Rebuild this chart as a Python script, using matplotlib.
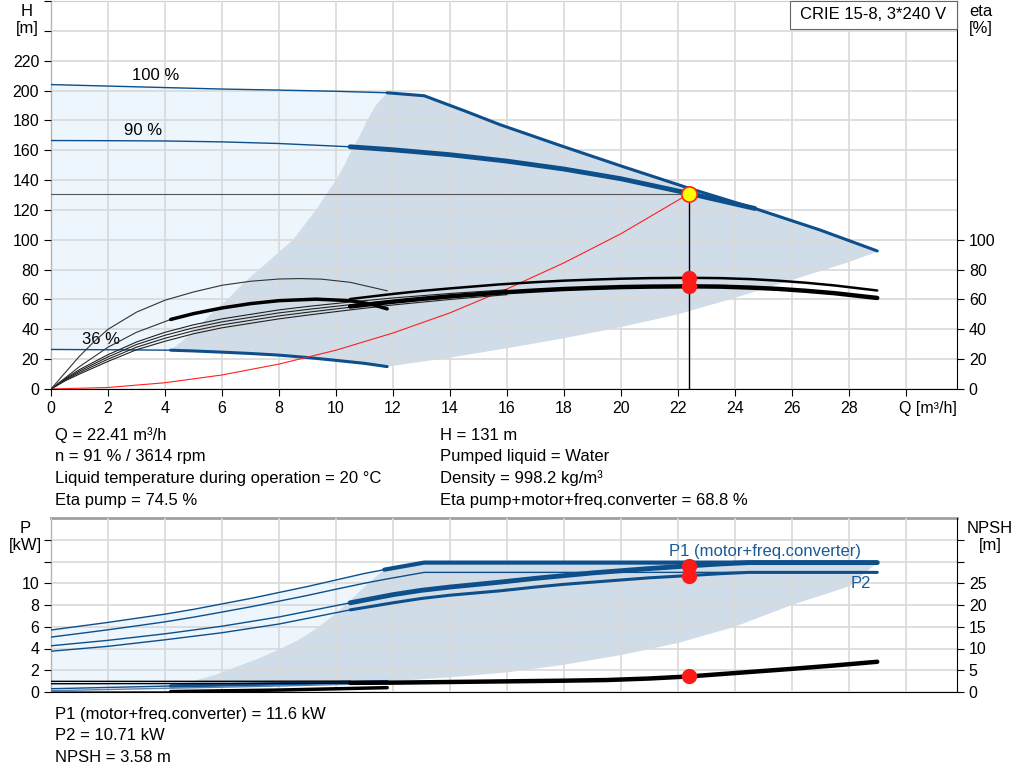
import numpy as np
import matplotlib
matplotlib.use('Agg')
import matplotlib.pyplot as plt

plt.rcParams['font.family'] = ['Liberation Sans', 'DejaVu Sans']
plt.rcParams['font.size'] = 12
plt.rcParams['xtick.labelsize'] = 11.5
plt.rcParams['ytick.labelsize'] = 11.5

BLUE = '#0d4f8b'
LIGHT = '#edf5fd'
SHADE = '#d0dce7'
GRID = '#d9d9d9'

# ---- operating point
q_op = 22.41
h_op = 131
eta_pump_op = 74.5
eta_tot_op = 68.8
p1_op = 11.6
p2_op = 10.71
npsh_op = 3.58

# ---- QH curves
q_max = [0, 2, 4, 6, 8, 10, 11.8, 13.1, 14.5, 15.75, 17.9, 20, 22.4, 24.7, 27, 29]
h_max = [204, 203, 202, 201, 200.3, 199.5, 198.5, 196.5, 186.5, 177.2, 163, 149.5, 134.5, 121, 106.5, 92.5]
q_91 = [0, 2, 4, 6, 8, 10.5, 12, 14, 16, 18, 20, 22.41, 24.7]
h_91 = [166.5, 166.4, 166.2, 165.6, 164.5, 162.3, 160.3, 157.0, 152.7, 147.4, 140.9, 131.0, 121.0]
q_36 = [0, 2, 4.2, 5, 6, 7, 8, 9, 10, 11, 11.8]
h_36 = [26.5, 26.3, 26, 25.5, 24.7, 23.8, 22.7, 21.1, 19.2, 17.2, 15]
# left and lower edge of the recommended area
q_left = [4.2, 4.6, 5.1, 5.6, 6.2, 6.7, 7.3, 7.9, 8.5, 8.9, 9.3, 9.65, 10.0, 10.3, 10.55, 10.85, 11.1, 11.4, 11.8]
h_left = [26, 32, 40, 50, 60, 70, 80, 90, 100, 110, 120, 130, 140, 150, 160, 170, 180, 190, 198.5]
q_low = [11.8, 14, 16, 18, 20, 22, 24, 26, 28, 29]
h_low = [15, 21, 27.3, 34, 41.5, 50, 61, 73, 85, 92]
# system curve
q_sys = [0, 2, 4, 6, 8, 10, 12, 14, 16, 18, 20, 22.41]
h_sys = [0, 1, 4.2, 9.4, 16.7, 26, 37.5, 51, 67, 84.5, 104, 131]

# ---- eta curves
q_ep36 = [0, 0.5, 1, 1.5, 2, 3, 4, 5, 6, 7, 8, 8.75, 9.5, 10.5, 11.8]
e_ep36 = [0, 11, 22, 31.5, 40, 51.5, 59.5, 65, 69.5, 72.2, 73.7, 74, 73.6, 71.5, 65.8]
q_et36 = [0, 0.5, 1, 2, 3, 4.2, 5, 6, 7, 8, 9.3, 10.5, 11.2, 11.8]
e_et36 = [0, 7.5, 15, 28, 38, 46.6, 50.5, 54.3, 57.2, 59.2, 60.2, 59.2, 57, 53.7]
q_eth = [0, 0.5, 1, 2, 3, 4, 5, 6, 7, 8, 9, 10.5, 12, 14, 16]
e_eth = [[0, 7, 13, 23, 31.5, 38, 43, 47, 50, 53, 55.3, 58.3, 61, 64, 66.5],
         [0, 6.5, 12, 21.5, 29.8, 36, 41, 45, 48, 51, 53.3, 56.5, 59.3, 62.5, 65.3],
         [0, 6, 11, 20, 28, 34, 39, 43, 46, 49, 51.4, 54.8, 57.8, 61.2, 64.2],
         [0, 5.5, 10, 18.5, 26.3, 32, 37, 41, 44, 47, 49.5, 53, 56.3, 60, 63.2]]
q_e91 = [10.5, 12, 13, 14, 15.75, 17, 18, 19, 20, 21, 22.41, 23.5, 24.6, 25.5, 26.5, 27.5, 29]
e_pump91 = [60.3, 63.7, 65.7, 67.4, 70.1, 71.6, 72.6, 73.3, 73.9, 74.3, 74.5, 74.3, 73.6, 72.6, 71.2, 69.4, 66.0]
e_tot91 = [55.3, 58.5, 60.4, 62.1, 64.6, 66.0, 67.0, 67.7, 68.3, 68.6, 68.8, 68.6, 67.9, 67.1, 65.8, 64.2, 61.0]

# ---- power curves
q_pmax = [0, 1, 2, 3, 4, 5, 6, 7, 8, 9, 10, 11, 11.7, 13.1, 29]
p1_max = [5.7, 6.05, 6.4, 6.78, 7.16, 7.6, 8.1, 8.6, 9.15, 9.7, 10.3, 10.9, 11.25, 11.9, 11.9]
p2_max = [5.05, 5.38, 5.72, 6.08, 6.45, 6.88, 7.35, 7.83, 8.35, 8.88, 9.45, 10.0, 10.35, 11.0, 11.0]
q_p91 = [0, 2, 4, 6, 8, 10.5, 12, 13, 14, 15.75, 17, 18, 19, 20, 21, 22.41, 23.5, 24.5, 29]
p1_91 = [4.25, 4.75, 5.35, 6.05, 6.9, 8.2, 8.95, 9.35, 9.65, 10.1, 10.45, 10.7, 10.95, 11.15, 11.35, 11.6, 11.78, 11.9, 11.9]
p2_91 = [3.75, 4.2, 4.8, 5.45, 6.25, 7.55, 8.2, 8.6, 8.9, 9.3, 9.65, 9.9, 10.1, 10.3, 10.5, 10.71, 10.88, 11.0, 11.0]
q_p36 = [0, 4.2, 8, 11.8]
p1_36 = [0.3, 0.55, 0.75, 0.95]
p2_36 = [0.12, 0.35, 0.55, 0.8]
q_pleft = [4.2, 5.0, 5.8, 6.5, 7.3, 8.0, 8.7, 9.3, 9.9, 10.5, 11.1, 11.7]
p_pleft = [0.55, 1.0, 1.6, 2.3, 3.1, 3.9, 4.8, 5.8, 7.0, 8.4, 9.9, 11.25]
q_plow = [11.8, 14, 16, 18, 20, 22, 24, 26, 28, 29]
p_plow = [0.95, 1.35, 1.8, 2.5, 3.4, 4.5, 6.0, 8.0, 9.7, 11.9]

# ---- NPSH curves
q_n = [0, 5, 10.5]
n_a = [2.45, 2.45, 2.5]
n_b = [1.9, 1.95, 2.05]
q_n91 = [10.5, 12, 14, 16, 18, 19.5, 21, 22.41, 24, 25.9, 27.5, 29]
n_91 = [2.1, 2.15, 2.3, 2.45, 2.6, 2.75, 3.1, 3.58, 4.35, 5.27, 6.1, 6.95]
q_n36 = [0, 4.2, 8, 11.8]
n_36 = [0.05, 0.1, 0.45, 1.0]


def part(q, v, lo, hi):
    q = np.asarray(q, float)
    v = np.asarray(v, float)
    m = (q >= lo - 1e-9) & (q <= hi + 1e-9)
    return q[m], v[m]


def curve(ax, q, v, lo, hi, lw, color, z=3):
    x, y = part(q, v, lo, hi)
    ax.plot(x, y, color=color, lw=lw, solid_capstyle='round', solid_joinstyle='round', zorder=z)


fig = plt.figure(figsize=(10.24, 7.81), dpi=100)
ax = fig.add_axes([51 / 1024, 1 - 389 / 781, 906 / 1024, 388 / 781])
ax2 = fig.add_axes([51 / 1024, 1 - 692 / 781, 906 / 1024, 174 / 781])

for a in (ax, ax2):
    a.set_xlim(0, 31.8)
    a.set_xticks(np.arange(0, 32, 2))
    a.grid(True, color=GRID, lw=1.2)
    a.set_axisbelow(False)
    a.spines['left'].set_color('black')
    a.spines['bottom'].set_color('black')
    a.tick_params(direction='out', length=5, colors='black')

# ---------------- top chart
ax.set_ylim(0, 260)
ax.set_yticks(np.arange(0, 261, 20))
ax.set_yticklabels([str(v) if v <= 220 else '' for v in range(0, 261, 20)])
ax.set_xticklabels([str(v) if v <= 28 else '' for v in range(0, 32, 2)])
ax.spines['top'].set_color('#a8a8a8')
ax.spines['right'].set_visible(False)

xm, ym = part(q_max, h_max, 0, 11.8)
ax.fill(np.r_[xm, q_36[::-1]], np.r_[ym, h_36[::-1]], color=LIGHT, lw=0, zorder=1)
xm2, ym2 = part(q_max, h_max, 11.8, 29)
x36, y36 = part(q_36, h_36, 4.2, 11.8)
ax.fill(np.r_[q_left, xm2, q_low[::-1], x36[::-1]],
        np.r_[h_left, ym2, h_low[::-1], y36[::-1]], color=SHADE, lw=0, zorder=1)

curve(ax, q_max, h_max, 0, 11.8, 1.0, BLUE)
curve(ax, q_max, h_max, 11.8, 29, 2.2, BLUE)
curve(ax, q_91, h_91, 0, 10.5, 1.0, BLUE)
curve(ax, q_91, h_91, 10.5, 24.7, 3.5, BLUE)
curve(ax, q_36, h_36, 0, 4.2, 1.0, BLUE)
curve(ax, q_36, h_36, 4.2, 11.8, 2.2, BLUE)
ax.plot(q_sys, h_sys, color='#ff2020', lw=0.8, zorder=3)
ax.plot([0, q_op], [h_op, h_op], color='#555555', lw=0.8, zorder=3)
ax.plot([q_op, q_op], [0, h_op], color='black', lw=1.0, zorder=3)

ax.text(2.84, 210, '100 %', va='center')
ax.text(2.56, 173, '90 %', va='center')
ax.text(1.09, 33, '36 %', va='center')

# eta axis
axe = ax.twinx()
axe.set_ylim(0, 260)
axe.set_yticks(np.arange(0, 101, 20))
axe.spines['right'].set_color('black')
axe.spines['top'].set_visible(False)
axe.spines['left'].set_visible(False)
axe.spines['bottom'].set_visible(False)
axe.tick_params(direction='out', length=5, colors='black')

axe.plot(q_ep36, e_ep36, color='#333333', lw=0.8)
curve(axe, q_et36, e_et36, 0, 4.2, 0.8, '#333333')
curve(axe, q_et36, e_et36, 4.2, 11.8, 2.5, 'black')
for e in e_eth:
    axe.plot(q_eth, e, color='#222222', lw=0.8)
axe.plot(q_e91, e_pump91, color='black', lw=1.8, solid_capstyle='round')
axe.plot(q_e91, e_tot91, color='black', lw=3.2, solid_capstyle='round')
axe.plot([q_op, q_op], [eta_pump_op, eta_tot_op], 'o', color='#ff1a1a', ms=10, zorder=5)
axe.plot([q_op], [h_op], 'o', mfc='#ffff00', mec='#ff2020', mew=1.2, ms=11, zorder=6)

axe.add_patch(plt.Rectangle((739 / 906, 1 - 28 / 389), 167 / 906, 28 / 389, transform=axe.transAxes,
                            fc='white', ec='#666666', lw=0.8, zorder=7, clip_on=False))
axe.text(822.5 / 906, 1 - 14 / 389, 'CRIE 15-8, 3*240 V', transform=axe.transAxes,
         ha='center', va='center', zorder=8)

# ---------------- bottom chart
ax2.set_ylim(0, 16)
ax2.set_yticks(np.arange(0, 15, 2))
ax2.set_yticklabels([str(v) if v <= 10 else '' for v in range(0, 15, 2)])
ax2.set_xticklabels([])
ax2.tick_params(axis='x', length=0)
ax2.spines['top'].set_color('#a0a0a0')
ax2.spines['top'].set_linewidth(2)
ax2.spines['right'].set_visible(False)

xm, ym = part(q_pmax, p1_max, 0, 11.7)
ax2.fill(np.r_[xm, [11.8], q_p36[::-1]], np.r_[ym, [11.3], p2_36[::-1]], color=LIGHT, lw=0, zorder=1)
xm2, ym2 = part(q_pmax, p1_max, 11.7, 29)
x36, y36 = part(q_p36, p1_36, 4.2, 11.8)
ax2.fill(np.r_[q_pleft, xm2, q_plow[::-1], x36[::-1]],
         np.r_[p_pleft, ym2, p_plow[::-1], y36[::-1]], color=SHADE, lw=0, zorder=1)

curve(ax2, q_pmax, p1_max, 0, 11.7, 1.0, BLUE)
curve(ax2, q_pmax, p1_max, 11.7, 29, 3.0, BLUE)
curve(ax2, q_pmax, p2_max, 0, 29, 1.0, BLUE)
curve(ax2, q_p91, p1_91, 0, 10.5, 1.0, BLUE)
curve(ax2, q_p91, p1_91, 10.5, 29, 3.5, BLUE)
curve(ax2, q_p91, p2_91, 0, 10.5, 1.0, BLUE)
curve(ax2, q_p91, p2_91, 10.5, 29, 2.2, BLUE)
curve(ax2, q_p36, p1_36, 0, 4.2, 1.0, BLUE)
curve(ax2, q_p36, p1_36, 4.2, 11.8, 2.5, BLUE)
curve(ax2, q_p36, p2_36, 0, 11.8, 1.0, '#5a7fa8')
ax2.plot([q_op, q_op], [p1_op, p2_op], 'o', color='#ff1a1a', ms=10, zorder=5)
ax2.text(21.7, 12.9, 'P1 (motor+freq.converter)', color='#1a5a98', va='center')
ax2.text(28.07, 10.0, 'P2', color='#1a5a98', va='center')

axn = ax2.twinx()
axn.set_ylim(0, 40)
axn.set_yticks(np.arange(0, 36, 5))
axn.set_yticklabels([str(v) if v <= 25 else '' for v in range(0, 36, 5)])
axn.spines['right'].set_color('black')
for s in ('top', 'left', 'bottom'):
    axn.spines[s].set_visible(False)
axn.tick_params(direction='out', length=5, colors='black')
axn.plot(q_n, n_a, color='black', lw=1.0)
axn.plot(q_n, n_b, color='black', lw=1.0)
axn.plot(q_n91, n_91, color='black', lw=3.2, solid_capstyle='round')
curve(axn, q_n36, n_36, 0, 4.2, 0.8, '#444444')
curve(axn, q_n36, n_36, 4.2, 11.8, 2.5, 'black')
axn.plot([q_op], [npsh_op], 'o', color='#ff1a1a', ms=10, zorder=5)

# ---------------- unit labels and info text
fig.text(27 / 1024, 1 - 20 / 781, 'H\n[m]', ha='center', va='center', linespacing=1.2)
fig.text(981 / 1024, 1 - 20 / 781, 'eta\n[%]', ha='center', va='center', linespacing=1.2)
fig.text(928 / 1024, 1 - 408 / 781, 'Q [m³/h]', ha='center', va='center', fontsize=11.5)
fig.text(25 / 1024, 1 - 537 / 781, 'P\n[kW]', ha='center', va='center', linespacing=1.2)
fig.text(990 / 1024, 1 - 537 / 781, 'NPSH\n[m]', ha='center', va='center', linespacing=1.2)

left_info = ['Q = 22.41 m³/h', 'n = 91 % / 3614 rpm',
             'Liquid temperature during operation = 20 °C', 'Eta pump = 74.5 %']
right_info = ['H = 131 m', 'Pumped liquid = Water', 'Density = 998.2 kg/m³',
              'Eta pump+motor+freq.converter = 68.8 %']
rows_y = [435, 457, 478, 500]
for t1, t2, y in zip(left_info, right_info, rows_y):
    fig.text(55 / 1024, 1 - y / 781, t1, va='center')
    fig.text(440 / 1024, 1 - y / 781, t2, va='center')

bottom_info = ['P1 (motor+freq.converter) = 11.6 kW', 'P2 = 10.71 kW', 'NPSH = 3.58 m']
for t, y in zip(bottom_info, [714, 736, 757]):
    fig.text(55 / 1024, 1 - y / 781, t, va='center')

fig.savefig('out.png', dpi=100)
